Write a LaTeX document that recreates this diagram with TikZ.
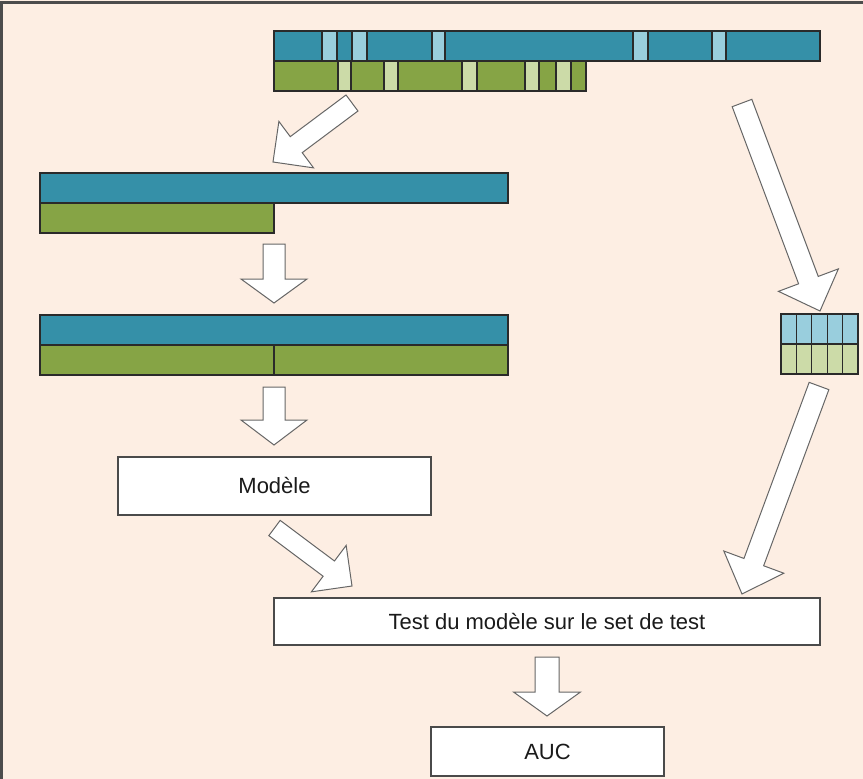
\documentclass[tikz,border=0pt]{standalone}
\usepackage{fontspec}
\setmainfont{Liberation Sans}
\usetikzlibrary{calc}
\definecolor{bg}{HTML}{FDEEE3}
\definecolor{tealc}{HTML}{3590A8}
\definecolor{tealL}{HTML}{99CEDD}
\definecolor{grn}{HTML}{86A445}
\definecolor{grnL}{HTML}{CCDBA8}
\definecolor{edge}{HTML}{2A2A2A}
\definecolor{txt}{HTML}{1A1A1A}
\tikzset{
  bar/.style={draw=edge, line width=1.2pt},
  textbox/.style={draw=edge!85, fill=white, line width=1.4pt, inner sep=0pt,
    text=txt, font=\fontsize{22}{26}\selectfont},
  blockarr/.style={draw=black!60, fill=white, line width=1pt, line join=miter},
}
\newcommand{\blockarrow}[5]{%
  \coordinate (ba-b) at ($(#2)!#5!(#1)$);
  \draw[blockarr] ($(#1)!#3!90:(#2)$) -- ($(ba-b)!#3!90:(#2)$) -- ($(ba-b)!#4!90:(#2)$)
    -- (#2) -- ($(ba-b)!#4!-90:(#2)$) -- ($(ba-b)!#3!-90:(#2)$) -- ($(#1)!#3!-90:(#2)$) -- cycle;
}
\begin{document}
\begin{tikzpicture}[x=1pt,y=-1pt]
\useasboundingbox (0,0) rectangle (863,779);
\fill[bg] (0,0) rectangle (863,779);
\draw[line width=2.6pt, draw=black!70] (1.3,779) -- (1.3,2.6) -- (863,2.6);

% top bars
\draw[bar, fill=tealc] (274,31) rectangle (820,61);
\foreach \a/\b in {322/337,352/367,432/445,633/648,712/726}
  \draw[bar, fill=tealL] (\a,31) rectangle (\b,61);
\draw[bar, fill=grn] (274,61) rectangle (586,91);
\foreach \a/\b in {338/351,384/398,462/477,525/539,556/571}
  \draw[bar, fill=grnL] (\a,61) rectangle (\b,91);

% second row
\draw[bar, fill=tealc] (40,173) rectangle (508,203);
\draw[bar, fill=grn] (40,203) rectangle (274,233);

% third row
\draw[bar, fill=tealc] (40,315) rectangle (508,345);
\draw[bar, fill=grn] (40,345) rectangle (274,375);
\draw[bar, fill=grn] (274,345) rectangle (508,375);

% small grid
\foreach \i in {0,...,4} {
  \draw[bar, fill=tealL] ({781+\i*15.4},314) rectangle ++(15.4,30);
  \draw[bar, fill=grnL] ({781+\i*15.4},344) rectangle ++(15.4,30);
}

% text boxes
\node[textbox, minimum width=313pt, minimum height=58pt] (modele) at (274.5,486) {Modèle};
\node[textbox, minimum width=546pt, minimum height=47pt] (test) at (547,621.5) {Test du modèle sur le set de test};
\node[textbox, minimum width=233pt, minimum height=49pt] (auc) at (547.5,751.5) {AUC};

% arrow coordinates
\coordinate (s1) at (352,103);  \coordinate (t1) at (273,162);
\coordinate (s2) at (274,244);  \coordinate (t2) at (274,303);
\coordinate (s3) at (274,387);  \coordinate (t3) at (274,445);
\coordinate (s4) at (547,657);  \coordinate (t4) at (547,716);
\coordinate (s5) at (274.5,528); \coordinate (t5) at (352,586);
\coordinate (s6) at (742,103);  \coordinate (t6) at (820,311);
\coordinate (s7) at (819,386);  \coordinate (t7) at (742,594);

\blockarrow{s1}{t1}{10pt}{29pt}{29pt}
\blockarrow{s2}{t2}{11pt}{33pt}{24pt}
\blockarrow{s3}{t3}{11pt}{33pt}{25pt}
\blockarrow{s4}{t4}{12pt}{33.5pt}{24pt}
\blockarrow{s5}{t5}{9.5pt}{29pt}{29pt}
\blockarrow{s6}{t6}{10.5pt}{32pt}{33pt}
\blockarrow{s7}{t7}{10.5pt}{32pt}{34pt}
\end{tikzpicture}
\end{document}
